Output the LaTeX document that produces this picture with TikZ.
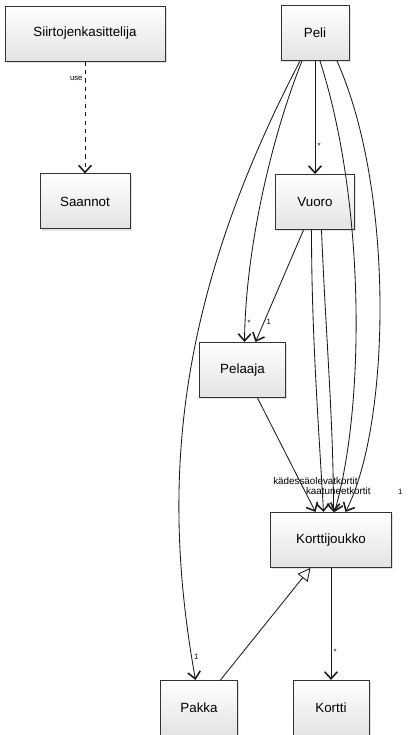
\documentclass[tikz,border=0pt]{standalone}
\usepackage{fontspec}
\setmainfont{Liberation Sans}
\usepackage{tikz}
\usetikzlibrary{arrows.meta,calc,positioning,shadows}
\tikzstyle{luokka}=[rectangle,line width=0.7pt,draw=black!80,minimum height=1.375cm,top color=white,bottom color=gray!22,font=\fontsize{9.5}{11}\selectfont,drop shadow={shadow xshift=1.3pt,shadow yshift=-1.3pt,fill=black!22}]
\tikzset{
	assoc/.style={draw=black!90,line width=0.6pt,-{Straight Barb[length=5pt,width=9pt,line width=1.1pt]}},
	perii/.style={draw=black!90,line width=0.6pt,-{Triangle[open,length=9pt,width=9pt,fill=white]}},
	riippuu/.style={assoc,dashed},
	kerroin/.style={font=\fontsize{5.5}{6}\selectfont,inner sep=1.5pt},
	rooli/.style={font=\fontsize{7}{8}\selectfont,inner sep=1pt}
}

\begin{document}
\begin{tikzpicture}
	\useasboundingbox (0,0) rectangle (10.275,-18.375);
	\node (siirto) [luokka,minimum width=4cm] at (2.125,-0.8375) {Siirtojenkasittelija};
	\node (peli) [luokka,minimum width=1.7cm] at (7.875,-0.825) {Peli};
	\node (saannot) [luokka,minimum width=2.25cm,below=2.8cm of siirto] {Saannot};
	\node (vuoro) [luokka,minimum width=1.975cm,below=2.825cm of peli] {Vuoro};
	\node (pelaaja) [luokka,minimum width=2.15cm,below=2.8cm of vuoro,xshift=-1.8125cm] {Pelaaja};
	\node (kj) [luokka,minimum width=3.025cm,below=2.85cm of pelaaja,xshift=2.2125cm] {Korttijoukko};
	\node (pakka) [luokka,minimum width=1.925cm,below=2.8cm of kj,xshift=-3.3cm] {Pakka};
	\node (kortti) [luokka,minimum width=1.9cm,below=2.8cm of kj] {Kortti};
	\draw[riippuu] (siirto) -- node[kerroin,pos=0.15,left] {use} (saannot);
	\draw[assoc] (peli) -- node[kerroin,pos=0.75,right] {*} (vuoro);
	\draw[assoc] ([xshift=-0.325cm]peli.south) .. controls +(-0.8,-2.0) and +(0.025,2.25) .. node[kerroin,pos=0.93,right] {*} ([xshift=0.05cm]pelaaja.north);
	\draw[assoc] ([xshift=-0.2875cm]vuoro.south) -- node[kerroin,pos=0.82,right] {1} ([xshift=0.325cm]pelaaja.north);
	\draw[assoc] ([xshift=-0.375cm]peli.south) .. controls +(-3.125,-6.0) and +(-0.875,4.875) .. node[kerroin,pos=0.96,right] {1} ([xshift=-0.0875cm]pakka.north);
	\draw[assoc] ([xshift=0.375cm]pelaaja.south) -- node[rooli,pos=0.74,xshift=0.375cm,yshift=1pt] {kädessäolevatkortit} ([xshift=-0.3875cm]kj.north);
	\draw[assoc] ([xshift=-0.0875cm]vuoro.south) .. controls +(0,-2.55) and +(-0.125,2.2) .. ([xshift=-0.1875cm]kj.north);
	\draw[assoc] ([xshift=0.1625cm]vuoro.south) .. controls +(0.1,-2.5) and +(0,2.25) .. node[rooli,pos=0.91,xshift=0.125cm,yshift=-2.5pt] {kaatuneetkortit} ([xshift=0.0625cm]kj.north);
	\draw[assoc] ([xshift=0.125cm]peli.south) .. controls +(1.125,-3.5) and +(0.775,2.7) .. ([xshift=0.0875cm]kj.north);
	\draw[assoc] ([xshift=0.55cm]peli.south) .. controls +(1.45,-3.25) and +(1.125,2.2) .. node[kerroin,pos=0.93,xshift=1.15cm] {1} ([xshift=0.3625cm]kj.north);
	\draw[assoc] (kj) -- node[kerroin,pos=0.75,right] {*} (kortti);
	\draw[perii] ([xshift=0.5375cm]pakka.north) -- ([xshift=-0.5125cm]kj.south);
\end{tikzpicture}
\end{document}
